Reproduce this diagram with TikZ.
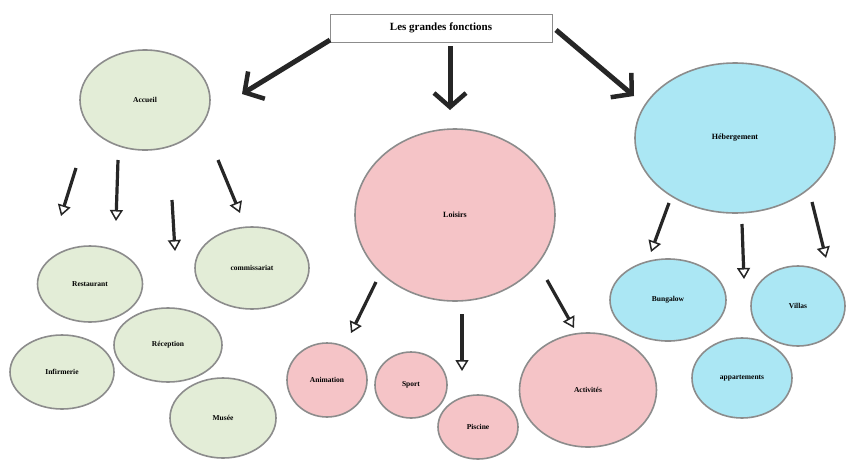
\documentclass[tikz,border=0pt]{standalone}
\usepackage{fontspec}
\setmainfont{Liberation Serif}
\usetikzlibrary{arrows.meta,shapes.geometric}
\definecolor{gfill}{HTML}{E3EDD7}
\definecolor{pfill}{HTML}{F5C4C7}
\definecolor{bfill}{HTML}{ABE7F4}
\definecolor{edgec}{HTML}{8C8C8C}
\begin{document}
\begin{tikzpicture}[x=1pt,y=-1pt,
  bub/.style={ellipse,draw=edgec,line width=1.6pt,inner sep=0pt,font=\fontsize{7.5}{8}\selectfont\bfseries},
  gb/.style={bub,fill=gfill},
  pb/.style={bub,fill=pfill},
  bb/.style={bub,fill=bfill},
  bigarr/.style={draw={black!85},line width=5pt,-{Straight Barb[length=14pt,width=32pt,line width=4.5pt]}},
  smarr/.style={draw={black!85},line width=3.2pt,-{Triangle[open,length=11pt,width=13pt,line width=1.5pt]}},
  titlebox/.style={draw=edgec,line width=0.8pt,fill=white,minimum width=222pt,minimum height=28pt,font=\fontsize{11}{13}\selectfont\bfseries}
]
\useasboundingbox (0,0) rectangle (846,461);
\fill[white] (0,0) rectangle (846,461);

\node[titlebox] (title) at (441,28) {Les grandes fonctions};

% main bubbles
\node[gb,minimum width=130pt,minimum height=100pt] (acc) at (145,100) {Accueil};
\node[pb,minimum width=200pt,minimum height=172pt,font=\fontsize{8}{9}\selectfont\bfseries] (loi) at (455,215) {Loisirs};
\node[bb,minimum width=200pt,minimum height=150pt,font=\fontsize{8}{9}\selectfont\bfseries] (heb) at (735,138) {H\'ebergement};

% big arrows
\coordinate (t1) at (330,40); \coordinate (h1) at (242,94);
\coordinate (t2) at (450,46); \coordinate (h2) at (450,110);
\coordinate (t3) at (556,30); \coordinate (h3) at (634,96);
\draw[bigarr] (t1) -- (h1);
\draw[bigarr] (t2) -- (h2);
\draw[bigarr] (t3) -- (h3);

% accueil children
\node[gb,minimum width=105pt,minimum height=76pt] (rest) at (90,284) {Restaurant};
\node[gb,minimum width=114pt,minimum height=82pt] (comm) at (252,268) {commissariat};
\node[gb,minimum width=108pt,minimum height=74pt] (rec) at (168,345) {R\'eception};
\node[gb,minimum width=104pt,minimum height=74pt] (inf) at (62,372) {Infirmerie};
\node[gb,minimum width=106pt,minimum height=80pt] (mus) at (223,418) {Mus\'ee};

\coordinate (a1s) at (76,168); \coordinate (a1e) at (61,216);
\coordinate (a2s) at (118,160); \coordinate (a2e) at (116,221);
\coordinate (a3s) at (172,200); \coordinate (a3e) at (175,251);
\coordinate (a4s) at (218,160); \coordinate (a4e) at (240,213);
\draw[smarr] (a1s) -- (a1e);
\draw[smarr] (a2s) -- (a2e);
\draw[smarr] (a3s) -- (a3e);
\draw[smarr] (a4s) -- (a4e);

% loisirs children
\node[pb,minimum width=80pt,minimum height=74pt] (anim) at (327,380) {Animation};
\node[pb,minimum width=72pt,minimum height=66pt] (spo) at (411,385) {Sport};
\node[pb,minimum width=80pt,minimum height=64pt] (pisc) at (478,427) {Piscine};
\node[pb,minimum width=137pt,minimum height=114pt] (act) at (588,390) {Activit\'es};

\coordinate (l1s) at (376,282); \coordinate (l1e) at (351,333);
\coordinate (l2s) at (462,314); \coordinate (l2e) at (462,371);
\coordinate (l3s) at (547,280); \coordinate (l3e) at (574,328);
\draw[smarr] (l1s) -- (l1e);
\draw[smarr] (l2s) -- (l2e);
\draw[smarr] (l3s) -- (l3e);

% hebergement children
\node[bb,minimum width=116pt,minimum height=82pt] (bung) at (668,300) {Bungalow};
\node[bb,minimum width=94pt,minimum height=80pt] (vil) at (798,306) {Villas};
\node[bb,minimum width=100pt,minimum height=80pt] (app) at (742,378) {appartements};

\coordinate (b1s) at (669,203); \coordinate (b1e) at (651,252);
\coordinate (b2s) at (742,224); \coordinate (b2e) at (744,279);
\coordinate (b3s) at (812,202); \coordinate (b3e) at (826,258);
\draw[smarr] (b1s) -- (b1e);
\draw[smarr] (b2s) -- (b2e);
\draw[smarr] (b3s) -- (b3e);
\end{tikzpicture}
\end{document}
